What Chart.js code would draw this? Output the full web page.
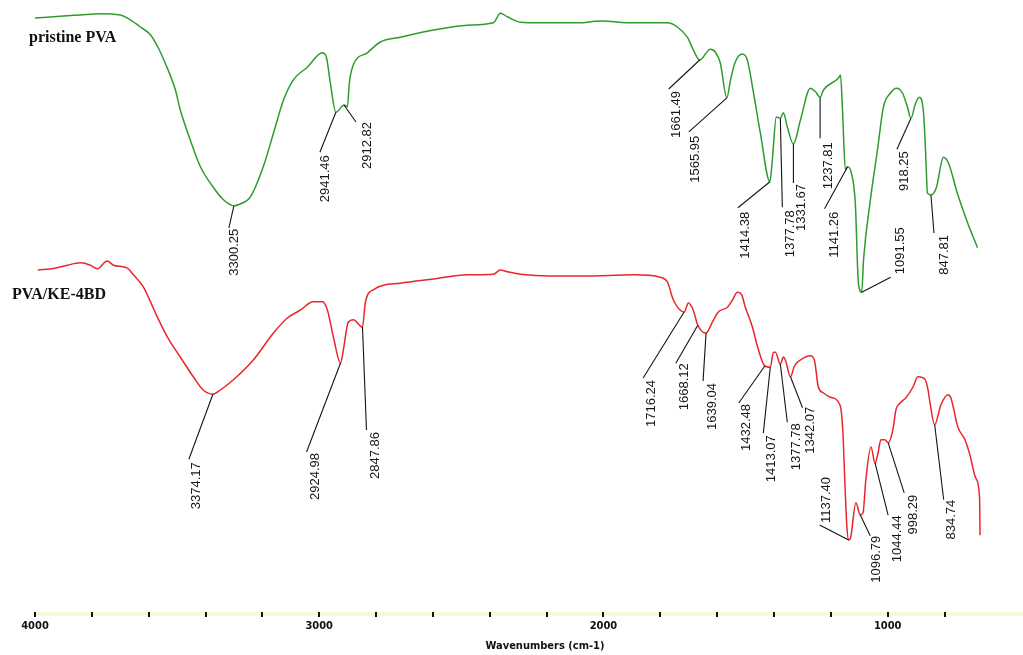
<!DOCTYPE html>
<html>
<head>
<meta charset="utf-8">
<script src="https://cdn.jsdelivr.net/npm/chart.js@4.4.1/dist/chart.umd.min.js"></script>
<style>
  html, body { margin: 0; padding: 0; background: #fff; }
  #wrap { width: 1023px; height: 655px; position: relative; }
</style>
</head>
<body>
<div id="wrap"><canvas id="ftir"></canvas></div>
<script>
// FTIR spectra: wavenumber (cm-1) and transmittance (a.u., the two traces stacked)
const pvaWavenumbers = [4000, 3911, 3841, 3770, 3700, 3665, 3629, 3594, 3566, 3542, 3506, 3489, 3454, 3418, 3373, 3337,
  3300.25, 3278, 3242, 3197, 3161, 3126, 3091, 3042, 2989, 2975, 2961, 2941.46, 2912.82, 2901, 2894, 2880, 2831, 2785,
  2715, 2598, 2479, 2387, 2363, 2338, 2292, 2222, 2092, 2011, 1895, 1775, 1740, 1705, 1684, 1661.49, 1624, 1606, 1589,
  1565.95, 1553, 1536, 1511, 1494, 1472, 1448, 1414.38, 1406, 1392, 1377.78, 1367, 1353, 1331.67, 1307, 1272, 1254,
  1237.81, 1226, 1173, 1166, 1159, 1149, 1141.26, 1128, 1114, 1103, 1091.55, 1085, 1061, 1036, 1015, 990, 969, 948, 931,
  918.25, 902, 888, 874, 867, 860, 847.81, 829, 804, 786, 755, 720, 684];
const pvaTransmittance = [99.0, 99.3, 99.5, 99.7, 99.5, 98.7, 97.5, 96.2, 94.0, 91.5, 87.0, 83.7, 78.7, 74.2, 70.8, 68.7,
  67.7, 68.0, 69.2, 74.2, 79.8, 85.3, 88.7, 90.8, 93.2, 92.5, 88.2, 83.3, 84.5, 84.2, 88.2, 91.2, 93.2, 95.0,
  95.8, 97.0, 97.8, 98.2, 99.8, 99.2, 98.3, 98.2, 98.2, 98.5, 98.2, 98.2, 97.5, 95.8, 93.7, 92.0, 93.8, 93.3, 91.5,
  85.7, 88.7, 91.7, 93.0, 92.0, 86.5, 79.8, 71.7, 75.3, 82.5, 82.3, 83.2, 80.8, 78.0, 82.0, 87.3, 86.7,
  85.8, 87.0, 89.0, 89.5, 83.7, 73.7, 74.2, 73.2, 68.2, 54.8, 53.3, 58.7, 68.7, 77.0, 84.2, 86.5, 87.3, 86.5, 84.2,
  82.3, 84.8, 85.8, 83.2, 77.0, 69.8, 69.5, 70.7, 75.8, 74.8, 69.8, 65.0, 60.7];

const blendWavenumbers = [3990, 3929, 3886, 3841, 3805, 3781, 3746, 3724, 3675, 3654, 3619, 3570, 3534, 3489, 3443, 3408,
  3374.17, 3348, 3302, 3232, 3161, 3112, 3067, 3021, 2989, 2971, 2950, 2924.98, 2915, 2898, 2880, 2847.86, 2838, 2810,
  2715, 2598, 2479, 2387, 2363, 2338, 2292, 2187, 2071, 1895, 1800, 1775, 1754, 1716.24, 1701, 1684, 1668.12, 1639.04,
  1617, 1596, 1564, 1546, 1529, 1515, 1501, 1476, 1458, 1432.48, 1413.07, 1402, 1395, 1377.78, 1367, 1360, 1342.07,
  1328, 1307, 1272, 1258, 1244, 1226, 1202, 1168, 1158, 1151, 1144, 1137.40, 1130, 1112, 1096.79, 1087, 1077, 1059,
  1044.44, 1034, 1024, 1010, 998.29, 982, 971, 957, 936, 911, 894, 869, 858, 851, 834.74, 813, 788, 778, 753, 728, 711,
  690, 677, 675];
const blendTransmittance = [57.0, 57.3, 57.8, 58.2, 57.8, 57.2, 58.5, 57.8, 57.3, 56.2, 54.2, 49.2, 45.8, 42.5, 39.2, 37.0,
  36.3, 37.0, 38.7, 42.0, 46.5, 49.0, 50.3, 51.7, 51.7, 50.3, 45.8, 41.5, 43.7, 48.3, 48.7, 47.5, 51.5, 53.7,
  54.8, 55.5, 56.2, 56.3, 57.0, 56.7, 56.3, 56.0, 56.0, 56.2, 55.8, 55.0, 52.0, 50.0, 51.5, 50.3, 47.8, 46.5,
  48.3, 50.0, 50.8, 52.0, 53.3, 53.0, 50.8, 47.5, 44.2, 41.0, 40.8, 43.3, 43.3, 41.3, 42.5, 42.0, 39.2,
  41.0, 42.0, 42.7, 42.0, 37.5, 36.5, 35.8, 34.5, 30.3, 22.0, 14.5, 12.0, 12.5, 18.2, 16.2, 16.5, 22.0, 27.5,
  24.8, 26.5, 28.7, 28.7, 28.2, 30.3, 33.7, 34.8, 35.7, 37.5, 39.2, 38.8, 37.0, 34.8, 31.2, 34.5, 36.2, 35.7, 30.8, 28.7, 26.2,
  22.3, 19.2, 12.8];

// picked peaks (cm-1)
const pvaPeaks = [3300.25, 2941.46, 2912.82, 1661.49, 1565.95, 1414.38, 1377.78, 1331.67, 1237.81, 1141.26, 1091.55, 918.25, 847.81];
const blendPeaks = [3374.17, 2924.98, 2847.86, 1716.24, 1668.12, 1639.04, 1432.48, 1413.07, 1377.78, 1342.07, 1137.40, 1096.79, 1044.44, 998.29, 834.74];

const xTickLabels = ['4000', '3000', '2000', '1000'];
const seriesNames = ['pristine PVA', 'PVA/KE-4BD'];
const axisTitle = 'Wavenumbers (cm-1)';

// annotation layout, px relative to the peak: [leader end dx, leader end dy, label centre dx, label top dy]
const pvaLabelLayout = [[-5, 22, 1, 23], [-16, 40, -10, 43], [12, 17, 23, 17], [-31, 29, -23, 31], [-38, 34, -31, 38],
  [-32, 26, -25, 30], [2, 89, 10, 92], [0, 39, 8, 40], [0, 41, 8, 45], [-23, 42, -13, 45], [29, -15, 39, -65],
  [-14, 31, -7, 33], [3, 38, 13, 40]];
const blendLabelLayout = [[-24, 65, -16, 68], [-34, 89, -25, 90], [4, 103, 13, 105], [-41, 66, -33, 68], [-22, 38, -13, 38],
  [-3, 48, 6, 50], [-26, 37, -18, 38], [-7, 66, 1, 68], [7, 58, 16, 59], [12, 31, 20, 30], [-29, -15, -22, -63],
  [10, 21, 16, 21], [13, 52, 22, 52], [16, 50, 25, 52], [9, 75, 17, 75]];

const toPoints = (xs, ys) => xs.map((x, i) => ({ x: x, y: ys[i] }));

// pale axis band under the tick marks
const axisBand = {
  id: 'axisBand',
  beforeDraw(chart) {
    const { ctx, chartArea } = chart;
    ctx.save();
    ctx.fillStyle = '#faf6d9';
    ctx.fillRect(chartArea.left, chartArea.bottom, chart.width - chartArea.left, 4);
    ctx.restore();
  }
};

// leader lines + rotated peak values, series names, axis title
const annotations = {
  id: 'annotations',
  afterDatasetsDraw(chart) {
    const ctx = chart.ctx, xs = chart.scales.x, ys = chart.scales.y;
    chart.data.datasets.forEach(ds => {
      ds.peaks.forEach((wn, j) => {
        const pt = ds.data.find(p => p.x === wn);
        const px = xs.getPixelForValue(pt.x), py = ys.getPixelForValue(pt.y);
        const [dx, dy, tx, ty] = ds.labelLayout[j];
        ctx.save();
        ctx.strokeStyle = '#151515';
        ctx.lineWidth = 1.1;
        ctx.beginPath();
        ctx.moveTo(px, py);
        ctx.lineTo(px + dx, py + dy);
        ctx.stroke();
        ctx.translate(px + tx, py + ty);
        ctx.rotate(-Math.PI / 2);
        ctx.font = '13px "Liberation Sans", Arial, sans-serif';
        ctx.fillStyle = '#151515';
        ctx.textAlign = 'right';
        ctx.textBaseline = 'middle';
        ctx.fillText(wn.toFixed(2), 0, 0);
        ctx.restore();
      });
    });
    ctx.save();
    ctx.fillStyle = '#111';
    ctx.font = 'bold 16px "Liberation Serif", "Times New Roman", serif';
    ctx.textAlign = 'left';
    ctx.textBaseline = 'middle';
    ctx.fillText(seriesNames[0], 29, 38);
    ctx.fillText(seriesNames[1], 12, 295);
    ctx.font = 'bold 11px "DejaVu Sans Condensed", "Liberation Sans Narrow", sans-serif';
    ctx.textAlign = 'center';
    ctx.fillText(axisTitle, 545, 646);
    ctx.restore();
  }
};

new Chart(document.getElementById('ftir'), {
  type: 'line',
  data: {
    datasets: [
      { label: seriesNames[0], data: toPoints(pvaWavenumbers, pvaTransmittance), borderColor: '#2f9b2f',
        borderWidth: 1.5, pointRadius: 0, cubicInterpolationMode: 'monotone', peaks: pvaPeaks, labelLayout: pvaLabelLayout },
      { label: seriesNames[1], data: toPoints(blendWavenumbers, blendTransmittance), borderColor: '#e8262c',
        borderWidth: 1.5, pointRadius: 0, cubicInterpolationMode: 'monotone', peaks: blendPeaks, labelLayout: blendLabelLayout }
    ]
  },
  options: {
    responsive: true,
    maintainAspectRatio: false,
    animation: false,
    layout: { padding: { left: 35, right: 0, top: 12, bottom: 0 } },
    plugins: { legend: { display: false }, tooltip: { enabled: false } },
    scales: {
      x: {
        type: 'linear',
        reverse: true,
        min: 524,
        max: 4000,
        afterBuildTicks(scale) { scale.ticks = scale.ticks.filter(t => t.value % 200 === 0); },
        afterFit(scale) { scale.height = 43; },
        border: { display: false },
        grid: { drawOnChartArea: false, drawTicks: true, tickLength: 5, color: '#111', lineWidth: 2 },
        ticks: {
          stepSize: 200,
          autoSkip: false,
          maxRotation: 0,
          padding: 3,
          color: '#111',
          font: { family: '"DejaVu Sans Condensed", "Liberation Sans Narrow", sans-serif', size: 11, weight: 'bold' },
          callback(v) { const s = String(v); return xTickLabels.includes(s) ? s : ''; }
        }
      },
      y: { display: false, min: 0, max: 100 }
    }
  },
  plugins: [axisBand, annotations]
});
</script>
</body>
</html>
